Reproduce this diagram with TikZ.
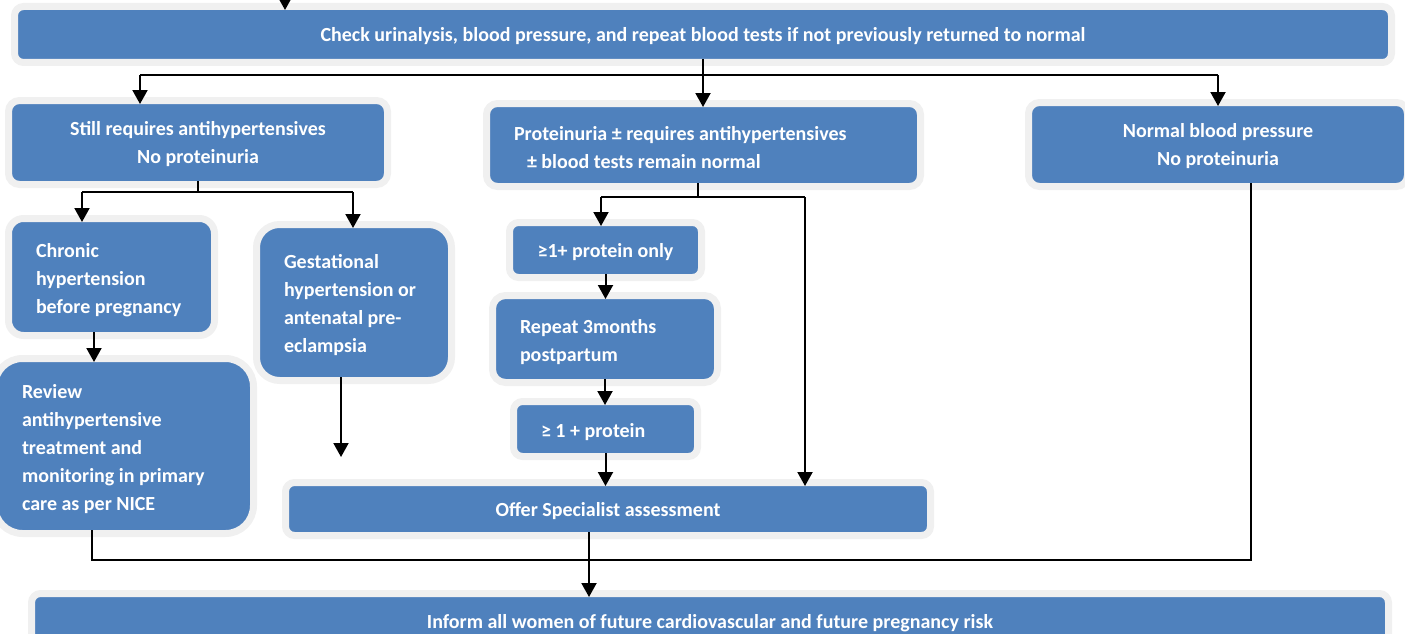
\documentclass[tikz,border=0pt]{standalone}
\usepackage{fontspec}
\setmainfont{Carlito}
\usetikzlibrary{arrows.meta}
\definecolor{boxblue}{HTML}{4F81BD}
\definecolor{boxgrey}{HTML}{F0F0F0}

\begin{document}
\begin{tikzpicture}[x=1pt,y=-1pt,line width=2pt,
  >={Triangle[width=15pt,length=14pt]},
  box/.style={draw=boxgrey,fill=boxblue,line width=7pt,rounded corners=11pt,
    outer sep=-3.5pt,text=white,font=\fontsize{20}{28}\selectfont\bfseries},
  midbox/.style={box,align=center,text depth=0pt},
  leftbox/.style={box,align=flush left,inner xsep=27.5pt,text height=20pt}]
\useasboundingbox (0,0) rectangle (1405,634);

% boxes
\node[midbox,minimum width=1377pt,minimum height=56pt,rounded corners=9pt] (check) at (703,34.5)
  {Check urinalysis, blood pressure, and repeat blood tests if not previously returned to normal};
\node[midbox,minimum width=379pt,minimum height=84pt] (still) at (198,142.5)
  {Still requires antihypertensives\\No proteinuria};
\node[leftbox,text width=379pt,minimum width=434pt,minimum height=83pt] (prot) at (703.5,145)
  {Proteinuria ± requires antihypertensives\\\hspace*{13pt}± blood tests remain normal};
\node[midbox,minimum width=379pt,minimum height=84pt] (normal) at (1218,144.5)
  {Normal blood pressure\\No proteinuria};
\node[leftbox,text width=151pt,minimum width=206pt,minimum height=117pt,rounded corners=15pt] (chronic) at (111.5,277)
  {Chronic\\hypertension\\before pregnancy};
\node[leftbox,text width=140pt,minimum width=195pt,minimum height=156pt,rounded corners=23pt] (gest) at (354,302.5)
  {Gestational\\hypertension or\\antenatal pre-\\eclampsia};
\node[leftbox,text width=204pt,minimum width=259pt,minimum height=175pt,rounded corners=28pt] (review) at (124,446)
  {Review\\antihypertensive\\treatment and\\monitoring in primary\\care as per NICE};
\node[midbox,minimum width=192pt,minimum height=55pt,rounded corners=9pt] (only) at (605.5,250)
  {≥1+ protein only};
\node[leftbox,text width=170pt,minimum width=225pt,minimum height=87pt,rounded corners=13pt] (repeat) at (605,339)
  {Repeat 3months\\postpartum};
\node[leftbox,text width=129pt,minimum width=184pt,minimum height=55pt,rounded corners=9pt] (plus) at (605.5,429)
  {≥ 1 + protein};
\node[midbox,minimum width=645pt,minimum height=53pt,rounded corners=9pt] (offer) at (608,509)
  {Offer Specialist assessment};
\node[midbox,minimum width=1357pt,minimum height=55pt,rounded corners=9pt] (inform) at (710,621)
  {Inform all women of future cardiovascular and future pregnancy risk};

% connectors
\coordinate (in) at (285,-12);
\draw[->] (in) -- (in |- check.north);
\draw[->] (check.south) -- (check.south |- prot.north);
\coordinate (s1) at (140,75);
\coordinate (s2) at (1218,75);
\draw (s1) -- (s2);
\draw[->] (s1) -- (s1 |- still.north);
\draw[->] (s2) -- (normal.north);

\coordinate (t1) at (82,192);
\coordinate (t2) at (353,192);
\draw (still.south) -- (still.south |- t1);
\draw (t1) -- (t2);
\draw[->] (t1) -- (t1 |- chronic.north);
\draw[->] (t2) -- (t2 |- gest.north);
\coordinate (r1) at (94,345);
\draw[->] (r1 |- chronic.south) -- (r1 |- review.north);
\coordinate (g1) at (341,457);
\draw[->] (g1 |- gest.south) -- (g1);

\coordinate (p0) at (698,197);
\coordinate (p1) at (601,197);
\coordinate (p2) at (805,197);
\draw (p0 |- prot.south) -- (p0);
\draw (p1) -- (p2);
\draw[->] (p1) -- (p1 |- only.north);
\draw[->] (p2) -- (p2 |- offer.north);
\draw[->] (only.south) -- (only.south |- repeat.north);
\draw[->] (repeat.south) -- (repeat.south |- plus.north);
\draw[->] (plus.south) -- (plus.south |- offer.north);

\coordinate (o1) at (589,560);
\draw[->] (o1 |- offer.south) -- (o1 |- inform.north);
\coordinate (q1) at (92,560);
\coordinate (q2) at (1251,560);
\draw (q1 |- review.south) -- (q1) -- (q2) -- (q2 |- normal.south);
\end{tikzpicture}
\end{document}
